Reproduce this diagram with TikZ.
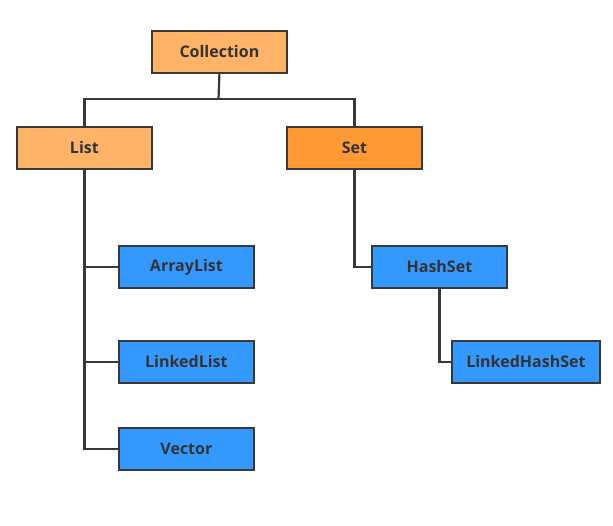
\documentclass[tikz,border=0pt]{standalone}
\usepackage{fontspec}
\setmainfont{Open Sans}
\begin{document}
\begin{tikzpicture}[x=1pt,y=-1pt,
  box/.style={draw=black!78,line width=1.8pt,minimum width=135pt,minimum height=42pt,inner sep=0pt,
    font=\bfseries\fontsize{16}{19}\selectfont,text=black!80,anchor=north west},
  lightor/.style={box,fill={rgb,255:red,255;green,179;blue,102}},
  darkor/.style={box,fill={rgb,255:red,255;green,153;blue,51}},
  blue/.style={box,fill={rgb,255:red,51;green,153;blue,255}},
  conn/.style={draw=black!78,line width=2.2pt}]
\useasboundingbox (0,0) rectangle (613,526);
\fill[white] (0,0) rectangle (613,526);
\node[lightor] (coll) at (151,30) {Collection};
\node[lightor] (list) at (16,126) {List};
\node[darkor] (set) at (286,126) {Set};
\node[blue] (al) at (118,245) {ArrayList};
\node[blue] (ll) at (118,340) {LinkedList};
\node[blue] (vec) at (118,427) {Vector};
\node[blue] (hs) at (371,245) {HashSet};
\node[blue,minimum width=148pt] (lhs) at (451,340) {LinkedHashSet};
\coordinate (j) at (218.5,99);
\draw[conn] (coll.south) -- (j);
\draw[conn] (list.north) |- (j) -| (set.north);
\draw[conn] (list.south) |- (al.west);
\draw[conn] (list.south) |- (ll.west);
\draw[conn] (list.south) |- (vec.west);
\draw[conn] (set.south) |- (hs.west);
\draw[conn] (hs.south) |- (lhs.west);
\end{tikzpicture}
\end{document}
